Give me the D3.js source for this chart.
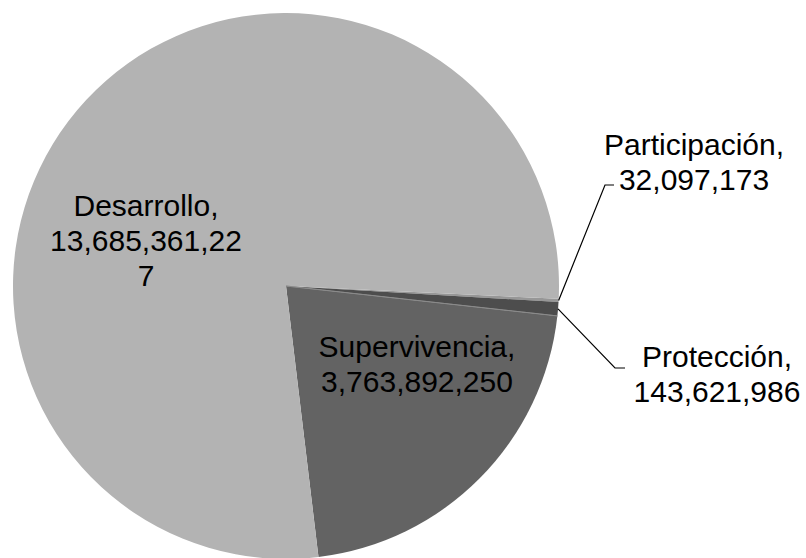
<!DOCTYPE html>
<html>
<head>
<style type="text/css">
body { margin: 0; background: #fff; }
.lbl {
	font-family: Arial, "Liberation Sans", sans-serif;
	font-size: 30px;
	fill: #000;
}
.leader {
	stroke: #000;
	stroke-width: 1.2;
	fill: none;
}
</style>
<script src="https://d3js.org/d3.v7.min.js"></script>
</head>
<body>
<script type="text/javascript">
var categories = ["Participación", "Protección", "Supervivencia", "Desarrollo"];
var values = [32097173, 143621986, 3763892250, 13685361227];
var colors = ["#979797", "#4d4d4d", "#636363", "#b3b3b3"];
// label lines as they wrap in the original
var labelLines = [
	["Participación,", "32,097,173"],
	["Protección,", "143,621,986"],
	["Supervivencia,", "3,763,892,250"],
	["Desarrollo,", "13,685,361,22", "7"]
];

var width = 806, height = 558;
var cx = 286, cy = 286, r = 273;
var lineH = 35;

var svg = d3.select("body").append("svg").attr("width", width).attr("height", height);
var g = svg.append("g").attr("transform", "translate(" + cx + "," + cy + ")");

var start = 92.7 * Math.PI / 180;
var pie = d3.pie().sort(null).startAngle(start).endAngle(start + 2 * Math.PI);
var arcs = pie(values);
var arc = d3.arc().innerRadius(0).outerRadius(r);

g.selectAll("path.slice").data(arcs).enter().append("path")
	.attr("class", "slice")
	.attr("d", arc)
	.attr("fill", function(d, i) { return colors[i]; });

// light seam between Protección and Supervivencia
g.append("path")
	.attr("d", d3.arc().innerRadius(0).outerRadius(r)({startAngle: arcs[2].startAngle, endAngle: arcs[2].startAngle}))
	.attr("stroke", "#8a8a8a").attr("stroke-width", 0.8).attr("fill", "none");

// label anchors (centre x, first baseline) relative to the page
var anchors = [
	{x: 694, y: 155, elbow: [605, 185, 614]},
	{x: 717, y: 367, elbow: [615, 368, 625]},
	{x: 417, y: 357},
	{x: 146, y: 216}
];

arcs.forEach(function(d, i) {
	var a = anchors[i];
	var t = svg.append("text").attr("class", "lbl").attr("text-anchor", "middle");
	labelLines[i].forEach(function(s, k) {
		t.append("tspan").attr("x", a.x).attr("y", a.y + k * lineH).text(s);
	});
	if (a.elbow) {
		var mid = (d.startAngle + d.endAngle) / 2;
		var px = cx + r * Math.sin(mid), py = cy - r * Math.cos(mid);
		svg.append("path").attr("class", "leader")
			.attr("d", "M" + px + "," + py + "L" + a.elbow[0] + "," + a.elbow[1] + "L" + a.elbow[2] + "," + a.elbow[1]);
	}
});
</script>
</body>
</html>
